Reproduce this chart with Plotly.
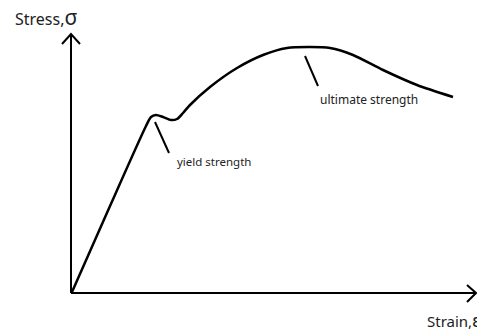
import plotly.graph_objects as go

# stress-strain curve (strain, stress) in arbitrary units
strain = [1, 39, 75, 80, 85, 92, 100, 106, 112, 119, 139, 166, 192, 216, 239, 259, 282, 312, 346, 382]
stress = [1, 87, 167, 176, 178, 176, 173, 174, 180, 188, 206, 225, 238, 245, 246, 245, 238, 223, 208, 196]

# leader lines for labels
yield_line_x = [84, 98]
yield_line_y = [171, 140]
ult_line_x = [234, 247]
ult_line_y = [237, 207]

# axes with open arrowheads
yaxis_x = [0, 0]
yaxis_y = [0, 259]
yarrow_x = [-9, 0, 9]
yarrow_y = [249, 259, 249]
xaxis_x = [0, 405]
xaxis_y = [0, 0]
xarrow_x = [396, 405, 396]
xarrow_y = [8, 0, -9]

FONT = "Noto Sans"
fig = go.Figure()
line_style = dict(color="black", width=2)
for xs, ys in [(yaxis_x, yaxis_y), (yarrow_x, yarrow_y), (xaxis_x, xaxis_y), (xarrow_x, xarrow_y)]:
    fig.add_trace(go.Scatter(x=xs, y=ys, mode="lines", line=line_style, hoverinfo="skip"))
fig.add_trace(go.Scatter(x=strain, y=stress, mode="lines",
                         line=dict(color="black", width=2.5, shape="spline", smoothing=0.7)))
fig.add_trace(go.Scatter(x=yield_line_x, y=yield_line_y, mode="lines", line=line_style))
fig.add_trace(go.Scatter(x=ult_line_x, y=ult_line_y, mode="lines", line=line_style))

fig.add_annotation(x=104, y=132, xref="x", yref="y", text="yield strength", showarrow=False,
                   xanchor="left", yanchor="middle", font=dict(family=FONT, size=11.5, color="#222"))
fig.add_annotation(x=247, y=194, xref="x", yref="y", text="ultimate strength", showarrow=False,
                   xanchor="left", yanchor="middle", font=dict(family=FONT, size=12, color="#222"))
fig.add_annotation(x=-0.111, y=0.944, xref="paper", yref="paper",
                   text="Stress,<span style='font-size:21px'>σ</span>", showarrow=False,
                   xanchor="left", yanchor="middle", font=dict(family=FONT, size=16, color="#222"))
fig.add_annotation(x=0.875, y=-0.049, xref="paper", yref="paper",
                   text="Strain,<span style='font-size:18px'>ε</span>", showarrow=False,
                   xanchor="left", yanchor="middle", font=dict(family=FONT, size=15, color="#222"))

fig.update_layout(
    width=477, height=330, showlegend=False,
    margin=dict(l=59, r=0, t=0, b=25),
    paper_bgcolor="white", plot_bgcolor="white",
    xaxis=dict(range=[-12, 406], visible=False, fixedrange=True),
    yaxis=dict(range=[-12, 293], visible=False, fixedrange=True),
)
fig.write_html("out.html", config={"displayModeBar": False},
               post_script="document.body.style.margin='0';document.body.style.overflow='hidden';")
